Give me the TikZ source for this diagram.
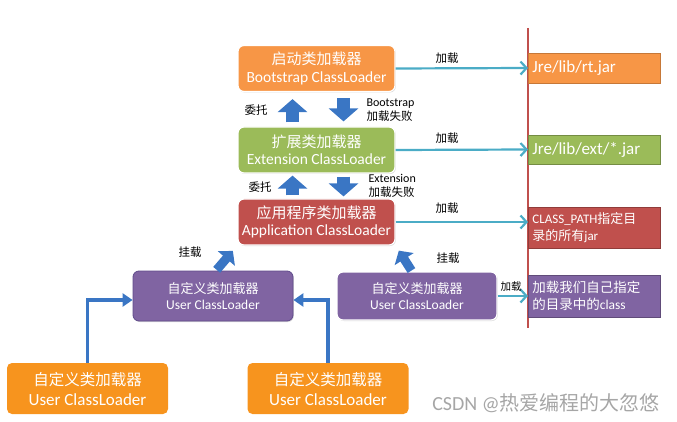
\documentclass[tikz,border=0pt]{standalone}
\usepackage{fontspec}
\setmainfont{Carlito}
\newfontfamily\cjk{Noto Sans CJK SC}
\usetikzlibrary{
    arrows.meta,
    calc,
    positioning,
    shadows
}
\definecolor{bootorange}{RGB}{247,150,70}
\definecolor{extgreen}{RGB}{155,187,89}
\definecolor{appred}{RGB}{192,80,77}
\definecolor{userpurple}{RGB}{128,100,162}
\definecolor{useredge}{RGB}{95,75,139}
\definecolor{userorange}{RGB}{247,148,30}
\definecolor{loadcyan}{RGB}{75,172,198}
\definecolor{arrowblue}{RGB}{58,118,196}
\tikzset{
    every picture/.style = {
        > = Stealth
    },
    loader/.style = {
        rounded corners = 6pt,
        draw = white,
        line width = 1.2pt,
        text = white,
        align = center,
        minimum width = 157pt,
        minimum height = 46pt,
        inner sep = 2pt,
        font = \fontsize{15.5}{17.5}\selectfont,
        drop shadow = {opacity = 0.3, shadow xshift = 0.8pt, shadow yshift = -1pt}
    },
    custom/.style = {
        rounded corners = 5pt,
        text = white,
        align = center,
        minimum width = 161pt,
        minimum height = 51pt,
        inner sep = 2pt,
        font = \fontsize{17}{20}\selectfont,
        fill = userorange
    },
    jarbox/.style = {
        anchor = west,
        line width = 0.8pt,
        text = white,
        align = left,
        minimum width = 132pt,
        text width = 124pt,
        inner xsep = 4pt
    },
    tag/.style = {
        font = \cjk\fontsize{11.5}{14}\selectfont
    },
    load/.style = {
        draw = loadcyan,
        line width = 2.2pt,
        -{Straight Barb[length = 6pt, width = 13pt]}
    },
    delegate/.style = {
        draw = arrowblue,
        line width = 13pt,
        -{Triangle[length = 13pt, width = 29pt]}
    },
    mount/.style = {
        draw = arrowblue,
        line width = 9pt,
        -{Triangle[length = 10pt, width = 22pt]}
    },
    joins/.style = {
        draw = arrowblue,
        line width = 3.5pt,
        -{Triangle[length = 10pt, width = 13pt]}
    }
}

\begin{document}
\begin{tikzpicture}[x = 1pt, y = -1pt]
    \useasboundingbox (0, 0) rectangle (677, 422);

    % loaders
    \node[loader, fill = bootorange] (boot) at (316.5, 68.5) {{\cjk\fontsize{15}{18}\selectfont 启动类加载器}\\Bootstrap ClassLoader};
    \node[loader, fill = extgreen] (ext) at (316.5, 150) {{\cjk\fontsize{15}{18}\selectfont 扩展类加载器}\\Extension ClassLoader};
    \node[loader, fill = appred] (app) at (316.5, 222) {{\cjk\fontsize{15}{18}\selectfont 应用程序类加载器}\\Application ClassLoader};

    \node[loader, fill = userpurple, draw = useredge, line width = 0.8pt, minimum width = 160pt, minimum height = 50pt, font = \fontsize{13.5}{16}\selectfont, drop shadow = {opacity = 0}] (user1) at (213, 296) {{\cjk\fontsize{13}{16}\selectfont 自定义类加载器}\\User ClassLoader};
    \node[loader, fill = userpurple, minimum width = 160pt, minimum height = 48pt, font = \fontsize{13.5}{16}\selectfont] (user2) at (417, 296) {{\cjk\fontsize{13}{16}\selectfont 自定义类加载器}\\User ClassLoader};

    \node[custom] (custom1) at (87.5, 388.5) {{\cjk\fontsize{15.5}{18}\selectfont 自定义类加载器}\\User ClassLoader};
    \node[custom] (custom2) at (328, 388.5) {{\cjk\fontsize{15.5}{18}\selectfont 自定义类加载器}\\User ClassLoader};

    % boundary
    \draw[appred, line width = 1.5pt] (528, 28) -- (528, 328);

    % loaded paths
    \node[jarbox, fill = bootorange, draw = bootorange!80!black, minimum height = 30pt, font = \fontsize{17}{19}\selectfont] (jar1) at (528, 68) {Jre/lib/rt.jar};
    \node[jarbox, fill = extgreen, draw = extgreen!75!black, minimum height = 29pt, font = \fontsize{17}{19}\selectfont] (jar2) at (528, 149.5) {Jre/lib/ext/*.jar};
    \node[jarbox, fill = appred, draw = appred!75!black, minimum height = 41pt, font = \fontsize{13}{16.5}\selectfont] (jar3) at (528, 227.5) {CLASS\_PATH{\cjk 指定目}\\{\cjk 录的所有}jar};
    \node[jarbox, fill = userpurple, draw = userpurple!75!black, minimum height = 42pt, font = \fontsize{13.5}{16.5}\selectfont] (jar4) at (528, 296) {{\cjk 加载我们自己指定}\\{\cjk 的目录中的}class};

    \draw[load] (boot.east) -- (jar1.west);
    \draw[load] (ext.east) -- (jar2.west);
    \draw[load] (app.east) -- (app.east -| jar3.west);
    \draw[load] (user2.east) -- (jar4.west);

    \node[tag] (l1) at (447, 58) {加载};
    \node[tag] (l2) at (447, 138) {加载};
    \node[tag] (l3) at (447, 208) {加载};
    \node[tag, font = \cjk\fontsize{10.5}{13}\selectfont] (l4) at (511, 287) {加载};

    % delegation
    \draw[delegate, shorten < = 4pt, shorten > = 7pt] ([xshift = -24pt]ext.north) -- ([xshift = -24pt]boot.south);
    \draw[delegate, shorten < = 6pt, shorten > = 5pt] ([xshift = 27pt]boot.south) -- ([xshift = 27pt]ext.north);
    \draw[delegate, shorten < = 3pt, shorten > = 2pt] ([xshift = -24pt]app.north) -- ([xshift = -24pt]ext.south);
    \draw[delegate, shorten < = 3pt, shorten > = 2pt] ([xshift = 27pt]ext.south) -- ([xshift = 27pt]app.north);

    \node[tag] (d1) at (256, 110) {委托};
    \node[tag] (d2) at (260, 187) {委托};
    \node[tag, anchor = west, align = left] (f1) at (363, 110) {{\rmfamily\fontsize{12}{14}\selectfont Bootstrap}\\加载失败};
    \node[tag, anchor = west, align = left] (f2) at (365, 185.5) {{\rmfamily\fontsize{12}{14}\selectfont Extension}\\加载失败};

    % mounting
    \draw[mount, shorten < = 1pt, shorten > = 7pt] ([xshift = 3pt]user1.north) -- (app.south west);
    \draw[mount, shorten < = 1pt, shorten > = 6pt] ([xshift = -5pt]user2.north) -- (app.south east);
    \node[tag] (m1) at (190, 252) {挂载};
    \node[tag] (m2) at (448, 258) {挂载};

    \draw[joins] (custom1.north) |- ([yshift = -4pt]user1.west);
    \draw[joins] (custom2.north) |- ([yshift = -4pt]user2.west -| user1.east);

    % watermark
    \node[text = gray!70, font = \fontsize{20}{22}\selectfont] (mark) at (546, 403) {CSDN @{\cjk 热爱编程的大忽悠}};
\end{tikzpicture}
\end{document}
